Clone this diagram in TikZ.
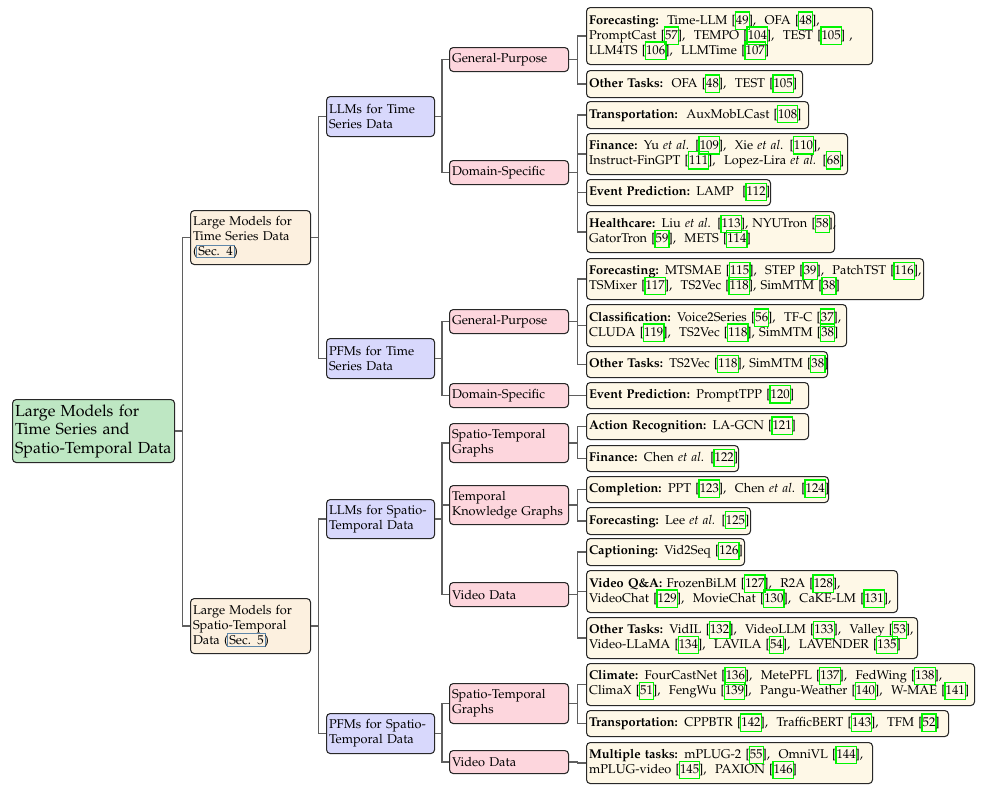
\documentclass[tikz,border=0pt]{standalone}
\usepackage[T1]{fontenc}
\usepackage{mathpazo}
\usetikzlibrary{calc}
\definecolor{linkg}{RGB}{0,245,0}
\definecolor{secblue}{RGB}{95,135,170}
\definecolor{rootfill}{RGB}{190,231,195}
\definecolor{lonefill}{RGB}{252,240,223}
\definecolor{ltwofill}{RGB}{216,216,252}
\definecolor{lthreefill}{RGB}{253,214,221}
\definecolor{leaffill}{RGB}{254,248,231}
\definecolor{bordercol}{RGB}{40,40,40}
\definecolor{edgecol}{RGB}{95,95,95}
\newcommand\cit[1]{[\kern-1pt\smash{\setlength{\fboxsep}{0pt}\setlength{\fboxrule}{1.05pt}\color{linkg}\fbox{\rule[-3.3pt]{0pt}{12.8pt}\color{black}#1}}\kern-1pt]}
\newcommand\secref[1]{\kern-1pt\smash{\setlength{\fboxsep}{0.8pt}\setlength{\fboxrule}{1pt}\color{secblue}\fbox{\color{black}#1}}\kern-1pt}
\newcommand\ea{\textit{et al}.}
\newcommand\bfs{\fontsize{10.2pt}{12pt}\selectfont}
\newcommand\rfs{\fontsize{12.8pt}{14.8pt}\selectfont}
\begin{document}
\begin{tikzpicture}[x=0.8pt,y=-0.8pt,
  base/.style={draw=bordercol, line width=0.85pt, rounded corners=3pt, anchor=north west,
     align=left, inner xsep=2pt, inner ysep=1pt, font=\bfs},
  rootbox/.style={base, fill=rootfill, font=\rfs, text width=125.6pt, minimum height=50.4pt},
  lone/.style={base, fill=lonefill, text width=92pt},
  ltwo/.style={base, fill=ltwofill, text width=82.4pt, minimum height=32pt},
  lthree/.style={base, fill=lthreefill, text width=91.2pt},
  leaf/.style={base, fill=leaffill},
  edge/.style={draw=edgecol, line width=1pt}]
\useasboundingbox (0,0) rectangle (991,792);

% root and level 1
\node[rootbox] (root) at (12,399) {\mbox{Large Models for}\\\mbox{Time Series and}\\\mbox{Spatio-Temporal Data}};
\node[lone, minimum height=43.2pt] (ts) at (190,210) {\mbox{Large Models for}\\\mbox{Time Series Data}\\\mbox{(\secref{Sec. 4})}};
\node[lone, minimum height=44pt] (st) at (190,598) {\mbox{Large Models for}\\\mbox{Spatio-Temporal}\\\mbox{Data (\secref{Sec. 5})}};

% level 2
\node[ltwo] (llmts) at (326,96) {\mbox{LLMs for Time}\\\mbox{Series Data}};
\node[ltwo] (pfmts) at (326,338) {\mbox{PFMs for Time}\\\mbox{Series Data}};
\node[ltwo, minimum height=31.2pt] (llmst) at (326,499) {\mbox{LLMs for Spatio-}\\\mbox{Temporal Data}};
\node[ltwo] (pfmst) at (326,713) {\mbox{PFMs for Spatio-}\\\mbox{Temporal Data}};

% level 3
\node[lthree, minimum height=19.2pt] (gpa) at (449,47) {General-Purpose};
\node[lthree, minimum height=19.2pt] (dsa) at (449,160) {Domain-Specific};
\node[lthree, minimum height=19.2pt] (gpb) at (449,309) {General-Purpose};
\node[lthree, minimum height=19.2pt] (dsb) at (449,383) {Domain-Specific};
\node[lthree, minimum height=31.2pt] (stga) at (449,423) {\mbox{Spatio-Temporal}\\Graphs};
\node[lthree, minimum height=31.2pt] (tkg) at (449,485) {Temporal\\\mbox{Knowledge Graphs}};
\node[lthree, minimum height=19.2pt] (vda) at (449,582) {Video Data};
\node[lthree, minimum height=32pt] (stgb) at (449,683) {\mbox{Spatio-Temporal}\\Graphs};
\node[lthree, minimum height=18.4pt] (vdb) at (449,750) {Video Data};

% leaves
\node[leaf, text width=224.8pt, minimum height=45.6pt] (f1) at (586,7)
 {\mbox{\textbf{Forecasting:}\ \ Time-LLM \cit{49},\ \ OFA \cit{48},}\\
  \mbox{PromptCast \cit{57},\ \ TEMPO \cit{104},\ \ TEST \cit{105} ,}\\
  \mbox{LLM4TS \cit{106},\ \ LLMTime \cit{107}}};
\node[leaf, text width=168.8pt, minimum height=21.6pt] (f2) at (586,70)
 {\mbox{\textbf{Other Tasks:}\ \ OFA \cit{48},\ \ TEST \cit{105}}};
\node[leaf, text width=173.6pt, minimum height=21.6pt] (f3) at (586,101)
 {\mbox{\textbf{Transportation:}\ \ AuxMobLCast \cit{108}}};
\node[leaf, text width=204.8pt, minimum height=32.8pt] (f4) at (586,133)
 {\mbox{\textbf{Finance:} Yu \ea{} \cit{109},\ \ Xie \ea{} \cit{110},}\\
  \mbox{Instruct-FinGPT \cit{111},\ \ Lopez-Lira \textit{et al.} \cit{68}}};
\node[leaf, text width=143.2pt, minimum height=20.8pt] (f5) at (586,179)
 {\mbox{\textbf{Event Prediction:} LAMP\ \ \cit{112}}};
\node[leaf, text width=194.4pt, minimum height=32.8pt] (f6) at (586,211)
 {\mbox{\textbf{Healthcare:} Liu \ea{} \cit{113}, NYUTron \cit{58},}\\
  \mbox{GatorTron \cit{59},\ \ METS \cit{114}}};
\node[leaf, text width=265.6pt, minimum height=32.8pt] (f7) at (586,258)
 {\mbox{\textbf{Forecasting:} MTSMAE \cit{115},\ \ STEP \cit{39},\ \ PatchTST \cit{116},}\\
  \mbox{TSMixer \cit{117},\ \ TS2Vec \cit{118}, SimMTM \cit{38}}};
\node[leaf, text width=204pt, minimum height=33.6pt] (f8) at (586,304)
 {\mbox{\textbf{Classification:} Voice2Series \cit{56},\ \ TF-C \cit{37},}\\
  \mbox{CLUDA \cit{119},\ \ TS2Vec \cit{118}, SimMTM \cit{38}}};
\node[leaf, text width=188.8pt, minimum height=20.8pt] (f9) at (586,351)
 {\mbox{\textbf{Other Tasks:} TS2Vec \cit{118}, SimMTM \cit{38}}};
\node[leaf, text width=173.6pt, minimum height=20.8pt] (f10) at (586,382)
 {\mbox{\textbf{Event Prediction:} PromptTPP \cit{120}}};
\node[leaf, text width=173.6pt, minimum height=20.8pt] (f11) at (586,413)
 {\mbox{\textbf{Action Recognition:} LA-GCN \cit{121}}};
\node[leaf, text width=117.6pt, minimum height=20.8pt] (f12) at (586,445)
 {\mbox{\textbf{Finance:} Chen \ea{} \cit{122}}};
\node[leaf, text width=189.6pt, minimum height=20.8pt] (f13) at (586,476)
 {\mbox{\textbf{Completion:} PPT \cit{123},\ \ Chen \ea{} \cit{124}}};
\node[leaf, text width=127.2pt, minimum height=21.6pt] (f14) at (586,507)
 {\mbox{\textbf{Forecasting:} Lee \textit{et al.} \cit{125}}};
\node[leaf, text width=122.4pt, minimum height=21.6pt] (f15) at (586,538)
 {\mbox{\textbf{Captioning:} Vid2Seq \cit{126}}};
\node[leaf, text width=244.8pt, minimum height=33.6pt] (f16) at (586,570)
 {\mbox{\textbf{Video Q\&A:} FrozenBiLM \cit{127},\ \ R2A \cit{128},}\\
  \mbox{VideoChat \cit{129},\ \ MovieChat \cit{130},\ \ CaKE-LM \cit{131},}};
\node[leaf, text width=260.8pt, minimum height=32.8pt] (f17) at (586,617)
 {\mbox{\textbf{Other Tasks:} VidIL \cit{132},\ \ VideoLLM \cit{133},\ \ Valley \cit{53},}\\
  \mbox{Video-LLaMA \cit{134},\ \ LAVILA \cit{54},\ \ LAVENDER \cit{135}}};
\node[leaf, text width=306.4pt, minimum height=33.6pt] (f18) at (586,663)
 {\mbox{\textbf{Climate:} FourCastNet \cit{136},\ \ MetePFL \cit{137},\ \ FedWing \cit{138},}\\
  \mbox{ClimaX \cit{51},\ \ FengWu \cit{139},\ \ Pangu-Weather \cit{140},\ \ W-MAE \cit{141}}};
\node[leaf, text width=285.6pt, minimum height=20.8pt] (f19) at (586,710)
 {\mbox{\textbf{Transportation:} CPPBTR \cit{142},\ \ TrafficBERT \cit{143},\ \ TFM \cit{52}}};
\node[leaf, text width=224.8pt, minimum height=32.8pt] (f20) at (586,742)
 {\mbox{\textbf{Multiple tasks:} mPLUG-2 \cit{55},\ \ OmniVL \cit{144},}\\
  \mbox{mPLUG-video \cit{145},\ \ PAXION \cit{146}}};

% connectors
\foreach \p/\c in {root/ts, root/st, ts/llmts, ts/pfmts, st/llmst, st/pfmst,
   llmts/gpa, llmts/dsa, pfmts/gpb, pfmts/dsb,
   llmst/stga, llmst/tkg, llmst/vda, pfmst/stgb, pfmst/vdb,
   gpa/f1, gpa/f2, dsa/f3, dsa/f4, dsa/f5, dsa/f6,
   gpb/f7, gpb/f8, gpb/f9, dsb/f10,
   stga/f11, stga/f12, tkg/f13, tkg/f14,
   vda/f15, vda/f16, vda/f17, stgb/f18, stgb/f19, vdb/f20}
  \draw[edge] (\p.east) -| ($(\p.east)!0.5!(\c.west)$) |- (\c.west);
\end{tikzpicture}
\end{document}
